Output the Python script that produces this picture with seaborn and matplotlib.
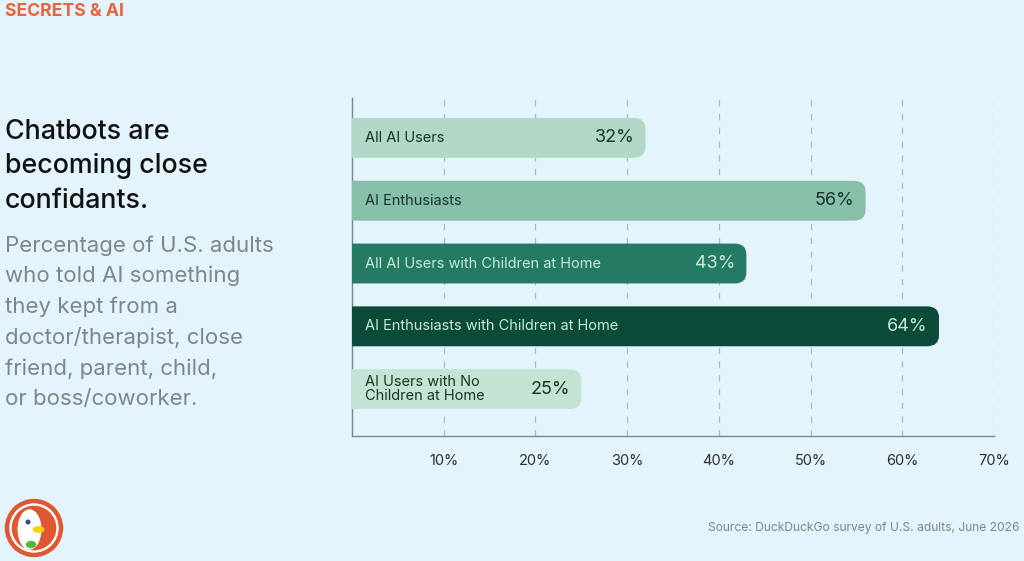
import matplotlib
matplotlib.use("Agg")
import matplotlib.pyplot as plt
import seaborn as sns
import pandas as pd
from matplotlib.patches import FancyBboxPatch, Circle, Ellipse

categories = ["All AI Users", "AI Enthusiasts", "All AI Users with Children at Home",
              "AI Enthusiasts with Children at Home", "AI Users with No\nChildren at Home"]
values = [32, 56, 43, 64, 25]
bar_colors = ["#b0d8c4", "#87bfa8", "#247a63", "#0c4a3a", "#c3e3d3"]
text_colors = ["#16352b", "#16352b", "#c6ead6", "#c6ead6", "#16352b"]
xticks = [10, 20, 30, 40, 50, 60, 70]
xtick_labels = ["10%", "20%", "30%", "40%", "50%", "60%", "70%"]

BG = "#e3f4fd"
FONT = ["Inter", "DejaVu Sans"]

sns.set_theme(style="white")
plt.rcParams["font.family"] = FONT

df = pd.DataFrame({"cat": categories, "val": values})

fig = plt.figure(figsize=(10.24, 5.61), dpi=100, facecolor=BG)
ax = fig.add_axes([352/1024, 1-436/561, (994-352)/1024, (436-98)/561])
ax.set_facecolor(BG)

sns.barplot(data=df, x="val", y="cat", hue="cat", palette=bar_colors,
            legend=False, ax=ax, width=0.635, saturation=1, zorder=3)

ax.set_xlim(0, 70)
ax.set_ylim(4.746, -0.635)

# rounded right ends
for p, c in zip(list(ax.patches), bar_colors):
    x0, y0, w, h = p.get_x(), p.get_y(), p.get_width(), p.get_height()
    p.set_visible(False)
    fb = FancyBboxPatch((x0 - 5, y0), w + 5, h,
                        boxstyle="round,pad=0,rounding_size=1.3",
                        mutation_aspect=h / 1.3 * 0.27,
                        facecolor=c, edgecolor="none", zorder=3)
    ax.add_patch(fb)

for i, (cat, v) in enumerate(zip(categories, values)):
    ax.annotate(cat, xy=(0, i), xytext=(9.5, 0), textcoords="offset points",
                ha="left", va="center", fontsize=10.5, color=text_colors[i],
                zorder=5, linespacing=1.05)
    ax.annotate(f"{v}%", xy=(v, i), xytext=(-8, 0), textcoords="offset points",
                ha="right", va="center", fontsize=13, color=text_colors[i], zorder=5)

ax.set_xticks(xticks)
ax.set_xticklabels(xtick_labels, fontsize=10.5, color="#2a2f33")
ax.tick_params(axis="x", length=0, pad=13)
ax.set_yticks([])
ax.set_xlabel("")
ax.set_ylabel("")
for x in xticks:
    ax.axvline(x, color="#adb8be", linestyle=(0, (5, 6)), linewidth=0.9, zorder=1)
for s in ["top", "right"]:
    ax.spines[s].set_visible(False)
for s in ["left", "bottom"]:
    ax.spines[s].set_color("#7d868c")
    ax.spines[s].set_linewidth(1.0)

# texts
fig.text(5/1024, 1-12/561, "SECRETS & AI", ha="left", va="center",
         fontsize=12.7, fontweight="bold", color="#e8643c")
fig.text(5/1024, 1-119/561, "Chatbots are\nbecoming close\nconfidants.", ha="left",
         va="top", fontsize=19.3, color="#111111", linespacing=1.42, fontweight="medium")
fig.text(5/1024, 1-235/561,
         "Percentage of U.S. adults\nwho told AI something\nthey kept from a\n"
         "doctor/therapist, close\nfriend, parent, child,\nor boss/coworker.",
         ha="left", va="top", fontsize=16, color="#7d868c", linespacing=1.62)
fig.text(1019/1024, 1-528/561, "Source: DuckDuckGo survey of U.S. adults, June 2026",
         ha="right", va="center", fontsize=8.7, color="#7d868c")

# logo
lax = fig.add_axes([4/1024, 1-558/561, 60/1024, 60/561])
lax.set_xlim(-1, 1); lax.set_ylim(-1, 1); lax.set_aspect("equal"); lax.axis("off")
lax.add_patch(Circle((0, 0), 0.95, color="#de5833"))
lax.add_patch(Circle((0, 0), 0.8, color="white"))
lax.add_patch(Circle((0, 0), 0.72, color="#de5833"))
lax.add_patch(Ellipse((-0.15, -0.05), 0.75, 1.3, color="white"))
lax.add_patch(Ellipse((0.15, -0.05), 0.35, 0.18, color="#fdd20a"))
lax.add_patch(Ellipse((-0.1, -0.55), 0.3, 0.2, color="#4cba3c"))
lax.add_patch(Circle((-0.2, 0.2), 0.06, color="#2d4f8e"))

fig.savefig("out.png", dpi=100, facecolor=BG)
